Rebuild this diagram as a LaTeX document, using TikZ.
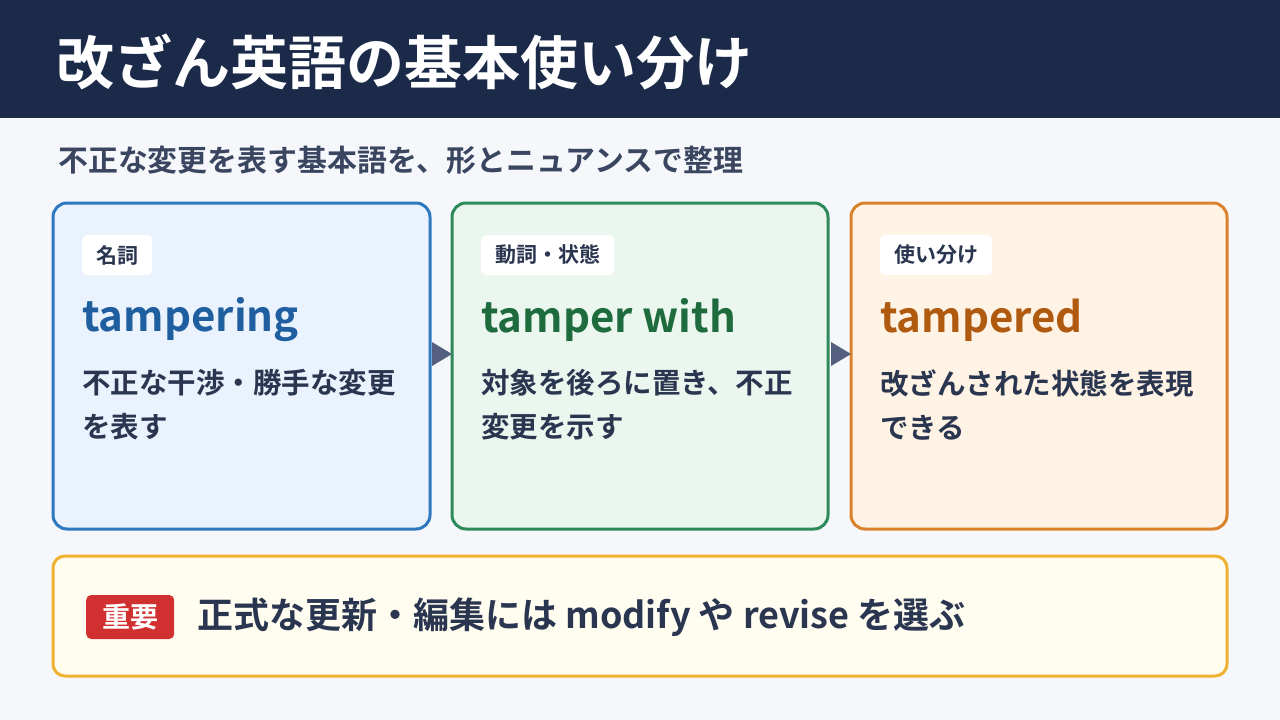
\documentclass[tikz,border=0pt]{standalone}
\usepackage{fontspec}
\setmainfont{Noto Sans CJK JP}[BoldFont={Noto Sans CJK JP Bold}]
\begin{document}
\begin{tikzpicture}[x=1pt,y=-1pt,
  card/.style={draw, line width=3pt, rounded corners=14pt},
  tag/.style={fill=white, rounded corners=5pt, anchor=west, inner xsep=14pt, minimum height=40pt, font=\fontsize{21}{23}\selectfont\bfseries, text=txt},
  word/.style={anchor=west, inner sep=0pt, font=\fontsize{42}{46}\selectfont\bfseries},
  desc/.style={anchor=north west, inner sep=0pt, align=left, text=txt, font=\fontsize{28.5}{44}\selectfont\bfseries},
  arr/.style={fill=arrc}]
\definecolor{navy}{HTML}{1C2A4A}
\definecolor{bg}{HTML}{F5F7FB}
\definecolor{txt}{HTML}{2A3550}
\definecolor{sub}{HTML}{3A4560}
\definecolor{arrc}{HTML}{556080}
\definecolor{b1}{HTML}{2E78C0}\definecolor{f1}{HTML}{EAF2FD}\definecolor{w1}{HTML}{1F5FA0}
\definecolor{b2}{HTML}{2E8A5A}\definecolor{f2}{HTML}{EAF6EE}\definecolor{w2}{HTML}{1E6B3E}
\definecolor{b3}{HTML}{D9822B}\definecolor{f3}{HTML}{FEF3E4}\definecolor{w3}{HTML}{B05A10}
\definecolor{b4}{HTML}{F0B030}\definecolor{f4}{HTML}{FFFCF0}\definecolor{red}{HTML}{D03030}
\useasboundingbox (0,0) rectangle (1280,720);
\fill[bg] (0,0) rectangle (1280,720);
\fill[navy] (0,0) rectangle (1280,118);
\node[anchor=west, inner sep=0pt, text=white, font=\fontsize{58}{62}\selectfont\bfseries] (title) at (56,62) {改ざん英語の基本使い分け};
\node[anchor=west, inner sep=0pt, text=sub, font=\fontsize{29.9}{32}\selectfont\bfseries] (subt) at (58,160) {不正な変更を表す基本語を、形とニュアンスで整理};
% cards
\draw[card, draw=b1, fill=f1] (53,203) rectangle (430,529);
\draw[card, draw=b2, fill=f2] (452,203) rectangle (828,529);
\draw[card, draw=b3, fill=f3] (851,203) rectangle (1227,529);
\node[tag] (t1) at (82,255) {名詞};
\node[tag] (t2) at (481,255) {動詞・状態};
\node[tag] (t3) at (880,255) {使い分け};
\node[word, text=w1] (m1) at (82,320) {tampering};
\node[word, text=w2] (m2) at (481,320) {tamper with};
\node[word, text=w3] (m3) at (880,320) {tampered};
\node[desc] (d1) at (82,369) {不正な干渉・勝手な変更\\を表す};
\node[desc] (d2) at (481,369) {対象を後ろに置き、不正\\変更を示す};
\node[desc] (d3) at (880,369) {改ざんされた状態を表現\\できる};
\fill[arr] (432,342) -- (452,354) -- (432,366) -- cycle;
\fill[arr] (831,342) -- (851,354) -- (831,366) -- cycle;
% bottom
\draw[card, draw=b4, fill=f4, rounded corners=12pt] (53,556) rectangle (1227,676);
\node[fill=red, rounded corners=5pt, anchor=west, minimum height=44pt, minimum width=88pt, text=white, font=\fontsize{28}{30}\selectfont\bfseries] (imp) at (86,617) {重要};
\node[anchor=west, inner sep=0pt, text=txt, font=\fontsize{36}{40}\selectfont\bfseries] (note) at (197,617) {正式な更新・編集には modify や revise を選ぶ};
\end{tikzpicture}
\end{document}
